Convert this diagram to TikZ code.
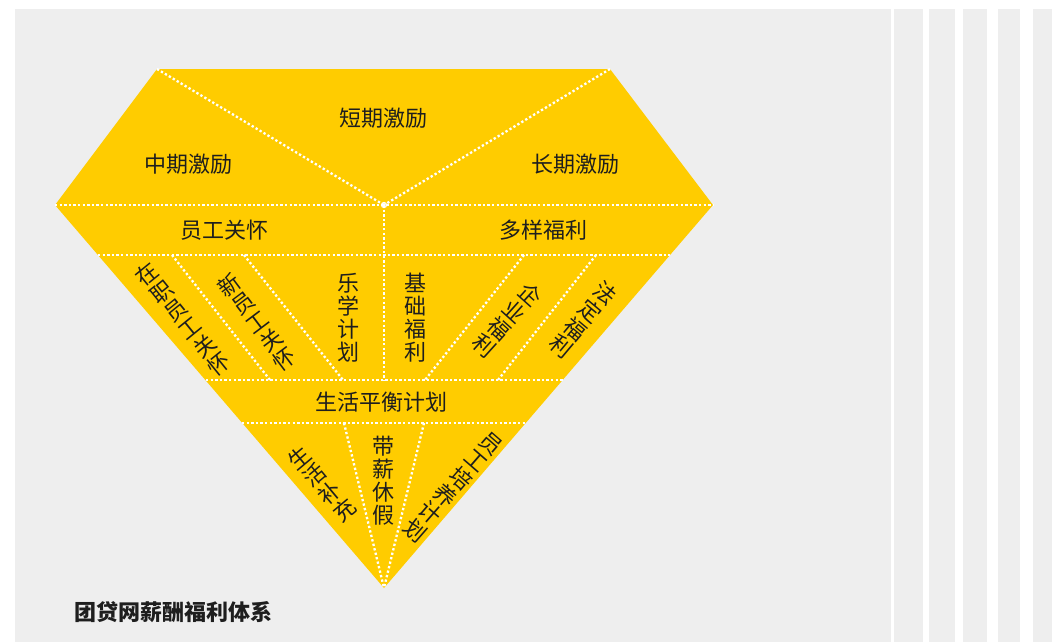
\documentclass[tikz,border=0pt]{standalone}
\usepackage{fontspec}
\newfontfamily\cjk{Noto Sans CJK SC}
\definecolor{gold}{HTML}{FFCC00}
\definecolor{bg}{HTML}{EEEEEE}
\definecolor{ink}{HTML}{1E1E1E}
\begin{document}
\begin{tikzpicture}[x=1pt,y=-1pt,
  lab/.style={font=\cjk\fontsize{22}{23}\selectfont, text=ink, inner sep=0pt, align=center},
  ttl/.style={font=\cjk\bfseries\fontsize{22}{23}\selectfont, text=ink, inner sep=0pt, anchor=west},
  dots/.style={white, line width=2.3pt, dash pattern=on 2.3pt off 2.3pt},
  stripe/.style={fill=white}]
\useasboundingbox (0,0) rectangle (1059,642);
\fill[white] (0,0) rectangle (1059,642);
\fill[bg] (15,9.5) rectangle (1059,642);
% right stripes
\fill[stripe] (891,9.5) rectangle (894,642);
\fill[stripe] (923,9.5) rectangle (929,642);
\fill[stripe] (955,9.5) rectangle (963,642);
\fill[stripe] (987,9.5) rectangle (998,642);
\fill[stripe] (1020,9.5) rectangle (1033,642);
\fill[stripe] (1052,9.5) rectangle (1059,642);
% diamond
\coordinate (TL) at (157,69);
\coordinate (TR) at (610,69);
\coordinate (L) at (55,205);
\coordinate (R) at (713,205);
\coordinate (B) at (384,588);
\coordinate (C) at (384,205);
\fill[gold] (TL) -- (TR) -- (R) -- (B) -- (L) -- cycle;
% dotted divisions
\draw[dots] (TL) -- (C);
\draw[dots] (TR) -- (C);
\draw[dots] (L) -- (R);
\coordinate (h1l) at (98,255);  \coordinate (h1r) at (670,255);
\coordinate (h2l) at (206,380); \coordinate (h2r) at (563,380);
\coordinate (h3l) at (242,423); \coordinate (h3r) at (527,423);
\draw[dots] (h1l) -- (h1r);
\draw[dots] (h2l) -- (h2r);
\draw[dots] (h3l) -- (h3r);
\coordinate (Cb) at (384,380);
\draw[dots] (C) -- (Cb);
\coordinate (a1) at (172,255); \coordinate (a2) at (270,380);
\coordinate (b1) at (244,255); \coordinate (b2) at (343,380);
\coordinate (c1) at (524,255); \coordinate (c2) at (425,380);
\coordinate (d1) at (596,255); \coordinate (d2) at (498,380);
\draw[dots] (a1) -- (a2);
\draw[dots] (b1) -- (b2);
\draw[dots] (c1) -- (c2);
\draw[dots] (d1) -- (d2);
\coordinate (e1) at (344,423); \coordinate (f1) at (424,423);
\draw[dots] (e1) -- (B);
\draw[dots] (f1) -- (B);
\draw[white, line width=1.2pt] (C) circle (2.5);
% labels
\node[lab] (short) at (383,118) {短期激励};
\node[lab] (mid) at (188,164) {中期激励};
\node[lab] (long) at (575,164) {长期激励};
\node[lab] (care) at (224,230) {员工关怀};
\node[lab] (welf) at (543,230) {多样福利};
\node[lab, rotate=39] (incare) at (183,319) {在\\职\\员\\工\\关\\怀};
\node[lab, rotate=37] (newcare) at (257,322) {新\\员\\工\\关\\怀};
\node[lab] (learn) at (348,318) {乐\\学\\计\\划};
\node[lab] (basic) at (415,318) {基\\础\\福\\利};
\node[lab, rotate=-42] (corp) at (507,320) {企\\业\\福\\利};
\node[lab, rotate=-40] (legal) at (583,320) {法\\定\\福\\利};
\node[lab] (balance) at (381,402) {生活平衡计划};
\node[lab, rotate=40] (life) at (322,484) {生\\活\\补\\充};
\node[lab] (leave) at (383,481) {带\\薪\\休\\假};
\node[lab, rotate=-41] (train) at (453,487) {员\\工\\培\\养\\计\\划};
\node[ttl] (title) at (74,612) {团贷网薪酬福利体系};
\end{tikzpicture}
\end{document}
